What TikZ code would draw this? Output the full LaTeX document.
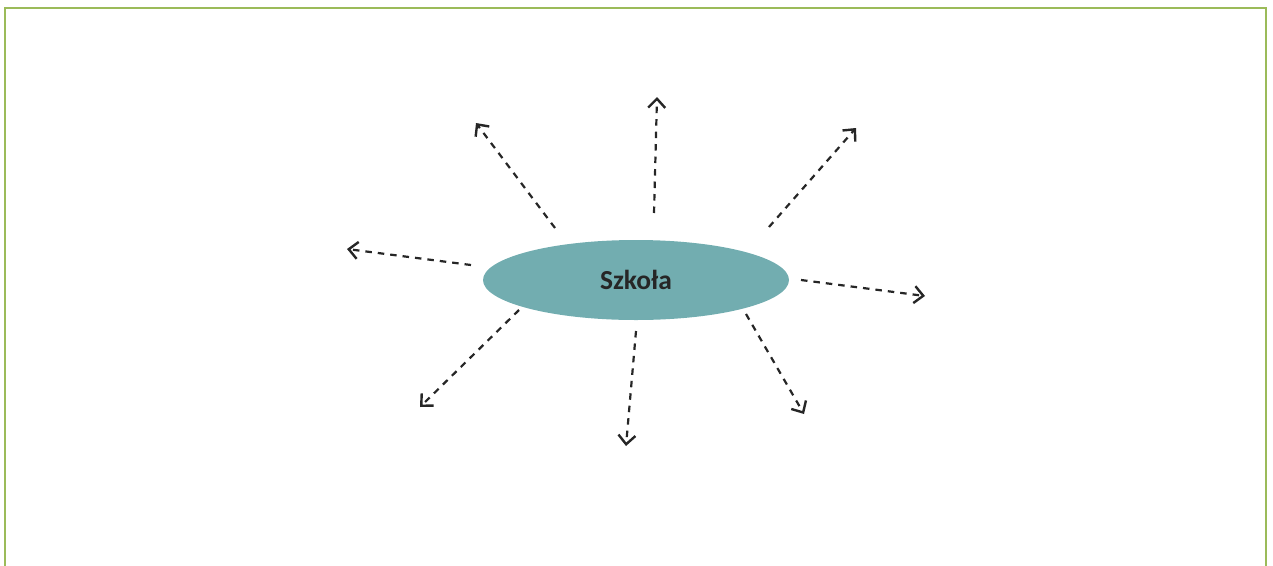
\documentclass[tikz,border=0pt]{standalone}
\usepackage{fontspec}
\setmainfont{Carlito}
\usetikzlibrary{arrows.meta,shapes.geometric}
\definecolor{frameGreen}{HTML}{9BBB59}
\definecolor{schoolTeal}{HTML}{72ADB0}
\tikzset{
  ray/.style={draw=black!85, line width=2.2pt, dash pattern=on 6.5pt off 6pt,
    -{Straight Barb[length=9pt,width=17pt,line width=2.4pt]}}
}
\begin{document}
\begin{tikzpicture}[x=1pt,y=-1pt]
\useasboundingbox (0,0) rectangle (1273,565);
\draw[frameGreen, line width=2.6pt] (5,580) -- (5,8) -- (1266,8) -- (1266,580);
\node[ellipse, fill=schoolTeal, minimum width=306pt, minimum height=80pt, inner sep=0pt,
  font=\fontsize{27.5}{30}\selectfont\bfseries, text=black!85] (school) at (636,280) {Szkoła};
\coordinate (w0) at (471,265);  \coordinate (w1) at (347,249);
\coordinate (nw0) at (555,228); \coordinate (nw1) at (476,123);
\coordinate (n0) at (654,213);  \coordinate (n1) at (657,97);
\coordinate (ne0) at (769,227); \coordinate (ne1) at (856,128);
\coordinate (e0) at (801,280);  \coordinate (e1) at (925,296);
\coordinate (se0) at (746,314); \coordinate (se1) at (804,414);
\coordinate (s0) at (636,331);  \coordinate (s1) at (626,446);
\coordinate (sw0) at (519,310); \coordinate (sw1) at (420,407);
\draw[ray] (w0) -- (w1);
\draw[ray] (nw0) -- (nw1);
\draw[ray] (n0) -- (n1);
\draw[ray] (ne0) -- (ne1);
\draw[ray] (e0) -- (e1);
\draw[ray] (se0) -- (se1);
\draw[ray] (s0) -- (s1);
\draw[ray] (sw0) -- (sw1);
\end{tikzpicture}
\end{document}
